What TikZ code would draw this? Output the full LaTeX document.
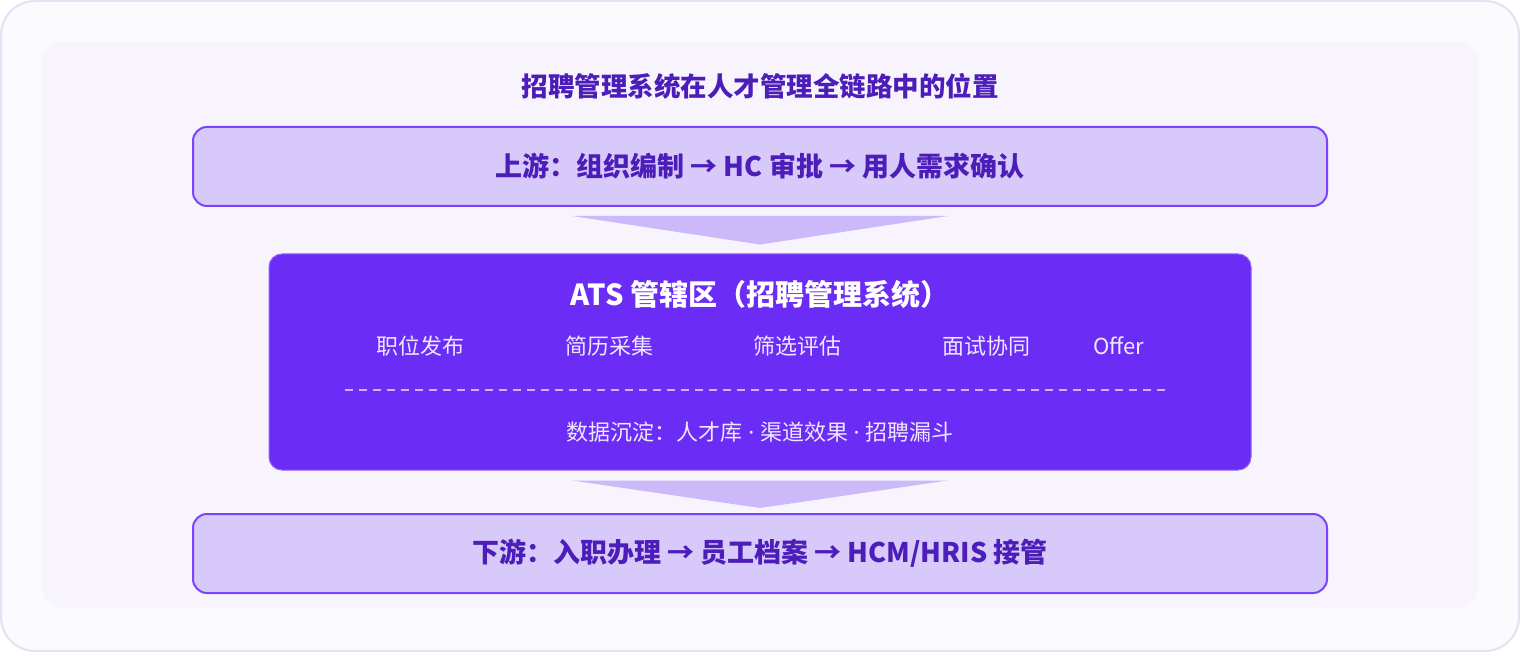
\documentclass[tikz,border=0pt]{standalone}
\usepackage{fontspec}
\setmainfont{Noto Sans CJK SC}
\newfontfamily\latinfont{Noto Sans}
\definecolor{framebg}{HTML}{FBFAFF}
\definecolor{frameline}{HTML}{E4E1F3}
\definecolor{panelbg}{HTML}{F7F4FE}
\definecolor{lanefill}{HTML}{D7C9FA}
\definecolor{laneline}{HTML}{7A45F8}
\definecolor{lanetext}{HTML}{4C1DB9}
\definecolor{flowfill}{HTML}{CCB9FA}
\definecolor{atsfill}{HTML}{6B2CF5}
\definecolor{atsline}{HTML}{8C62F8}
\definecolor{atstext}{HTML}{EEE8FF}
\definecolor{sepline}{HTML}{C9B6FB}
\newcommand{\middot}{{\latinfont\ ·\ }}
\begin{document}
\begin{tikzpicture}[x=1pt,y=-1pt,
    lanebox/.style={draw=laneline,line width=2pt,fill=lanefill,rounded corners=14pt,
        minimum width=1134pt,minimum height=79pt,text=lanetext,
        font=\fontsize{27}{32}\selectfont\bfseries},
    atsbox/.style={draw=atsline,line width=1pt,fill=atsfill,rounded corners=13pt,
        minimum width=982pt,minimum height=216pt},
    item/.style={text=atstext,font=\fontsize{22}{26}\selectfont},
    flow/.style={fill=flowfill}]
    \useasboundingbox (0,0) rectangle (1520,652);
    \draw [draw=frameline,line width=2pt,fill=framebg,rounded corners=34pt] (1,1) rectangle (1519,651);
    \fill [panelbg,rounded corners=20pt] (42,42) rectangle (1478,608);

    \node [text=lanetext,font=\fontsize{26.5}{30}\selectfont\bfseries] (title) at (760,86) {招聘管理系统在人才管理全链路中的位置};

    \node [lanebox] (upstream) at (760,166.5) {上游：组织编制 → HC 审批 → 用人需求确认};
    \node [atsbox] (ats) at (760,362) {};
    \node [lanebox] (downstream) at (760,553.5) {下游：入职办理 → 员工档案 → HCM/HRIS 接管};

    % flow triangles between the layers
    \fill [flow] ([xshift=-188pt,yshift=-9pt]upstream.south) -- ([xshift=188pt,yshift=-9pt]upstream.south) -- ([yshift=9pt]ats.north) -- cycle;
    \fill [flow] ([xshift=-188pt,yshift=-10pt]ats.south) -- ([xshift=188pt,yshift=-10pt]ats.south) -- ([yshift=5pt]downstream.north) -- cycle;

    \node [text=white,font=\fontsize{29}{33}\selectfont\bfseries] (atstitle) at (760,294) {ATS 管辖区（招聘管理系统）};
    \foreach \name/\x/\txt in {post/420/职位发布,collect/609/简历采集,screen/797/筛选评估,interview/986/面试协同,offer/1119/Offer}
        \node [item] (\name) at (\x,346) {\txt};
    \draw [sepline,line width=1.5pt,dash pattern=on 8pt off 6pt] (345,390) -- (1171,390);
    \node [item] (data) at (760,432) {数据沉淀：人才库\middot 渠道效果\middot 招聘漏斗};
\end{tikzpicture}
\end{document}
